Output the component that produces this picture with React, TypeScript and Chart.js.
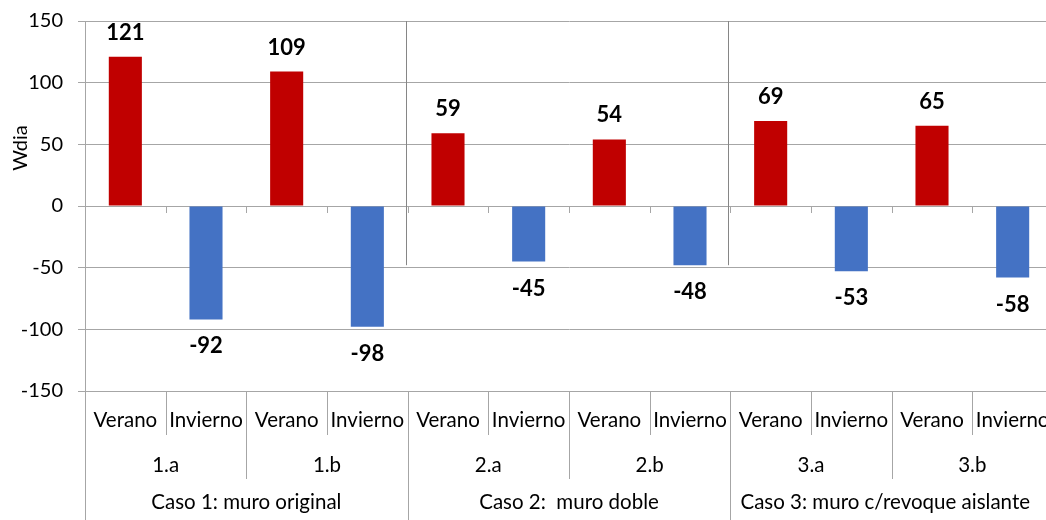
import React, { useEffect, useRef } from "react";
import { Chart, registerables } from "chart.js";

Chart.register(...registerables);

const categories = [
  "Verano", "Invierno", "Verano", "Invierno",
  "Verano", "Invierno", "Verano", "Invierno",
  "Verano", "Invierno", "Verano", "Invierno",
];
const subgroups = ["1.a", "1.b", "2.a", "2.b", "3.a", "3.b"];
const cases = ["Caso 1: muro original", "Caso 2:  muro doble", "Caso 3: muro c/revoque aislante"];
const values = [121, -92, 109, -98, 59, -45, 54, -48, 69, -53, 65, -58];
const yMin = -150;
const yMax = 150;
const yStep = 50;
const yTitle = "Wdia";

const RED = "#C00000";
const BLUE = "#4472C4";
const GRID = "#A6A6A6";
const SEP = "#868686";
const FONT = "Lato, 'Noto Sans', sans-serif";

const overlay = {
  id: "overlay",
  afterDraw(chart: any) {
    const { ctx, chartArea, scales } = chart;
    const x = scales.x;
    const y = scales.y;
    const n = categories.length;
    const step = x.getPixelForValue(1) - x.getPixelForValue(0);
    const edge = (i: number) => x.getPixelForValue(i) - step / 2;
    const crisp = (v: number) => Math.round(v) + 0.5;
    const visibleRight = 1046;

    ctx.save();
    ctx.lineWidth = 1;

    // vertical separators inside plot between cases
    ctx.strokeStyle = SEP;
    [4, 8].forEach((i) => {
      const px = crisp(edge(i) - 2);
      ctx.beginPath();
      ctx.moveTo(px, chartArea.top);
      ctx.lineTo(px, y.getPixelForValue(-48));
      ctx.stroke();
    });

    // small ticks below zero line
    ctx.strokeStyle = GRID;
    const y0 = Math.round(y.getPixelForValue(0));
    for (let i = 0; i <= n; i++) {
      const px = crisp(edge(i));
      ctx.beginPath();
      ctx.moveTo(px, y0);
      ctx.lineTo(px, y0 + 7);
      ctx.stroke();
    }

    // category axis separators
    const bottom = chartArea.bottom;
    for (let i = 0; i <= n; i++) {
      const px = crisp(edge(i));
      let end = 435;
      if (i % 4 === 0) end = 520;
      else if (i % 2 === 0) end = 479;
      ctx.beginPath();
      ctx.moveTo(px, bottom);
      ctx.lineTo(px, end);
      ctx.stroke();
    }

    // category labels
    ctx.fillStyle = "#000";
    ctx.textBaseline = "alphabetic";
    ctx.textAlign = "center";
    ctx.font = `20.5px ${FONT}`;
    categories.forEach((c, i) => {
      ctx.fillText(c, x.getPixelForValue(i), 427);
    });
    subgroups.forEach((s, g) => {
      const cx = (edge(g * 2) + edge(g * 2 + 2)) / 2;
      ctx.fillText(s, cx, 472);
    });
    cases.forEach((s, g) => {
      let cx = (edge(g * 4) + edge(g * 4 + 4)) / 2;
      const w = ctx.measureText(s).width;
      const maxRight = visibleRight - 16;
      if (cx + w / 2 > maxRight) cx = maxRight - w / 2;
      ctx.fillText(s, cx, 509);
    });

    // data labels
    const meta = chart.getDatasetMeta(0);
    ctx.font = `bold 22px ${FONT}`;
    meta.data.forEach((bar: any, i: number) => {
      const v = values[i];
      if (v >= 0) ctx.fillText(String(v), bar.x, bar.y - 17);
      else ctx.fillText(String(v), bar.x, bar.y + 34);
    });

    // y title
    ctx.save();
    ctx.translate(27, 148);
    ctx.rotate(-Math.PI / 2);
    ctx.font = `20px ${FONT}`;
    ctx.fillText(yTitle, 0, 0);
    ctx.restore();

    ctx.restore();
  },
};

export default function App() {
  const ref = useRef<HTMLCanvasElement | null>(null);

  useEffect(() => {
    if (!ref.current) return;
    const chart = new Chart(ref.current, {
      type: "bar",
      data: {
        labels: categories,
        datasets: [
          {
            data: values,
            backgroundColor: categories.map((c) => (c === "Verano" ? RED : BLUE)),
            barPercentage: 0.41,
            categoryPercentage: 1,
          },
        ],
      },
      options: {
        responsive: false,
        animation: false,
        layout: { padding: { top: 21, bottom: 129, left: 0, right: 3 } },
        plugins: { legend: { display: false }, tooltip: { enabled: false } },
        scales: {
          x: {
            type: "category",
            offset: true,
            grid: { display: false },
            border: { display: false },
            ticks: { display: false },
            afterFit: (s: any) => {
              s.height = 0;
            },
          },
          y: {
            min: yMin,
            max: yMax,
            ticks: {
              stepSize: yStep,
              padding: 15,
              color: "#000",
              font: { family: FONT, size: 20 },
            },
            grid: { color: GRID, tickLength: 7, tickColor: GRID },
            border: { color: GRID },
            afterFit: (s: any) => {
              s.width = 85;
              s.paddingTop = 0;
              s.paddingBottom = 0;
            },
          },
        },
      },
      plugins: [overlay],
    } as any);
    return () => chart.destroy();
  }, []);

  return (
    <div
      style={{
        position: "fixed",
        left: 0,
        top: 0,
        width: 1046,
        height: 520,
        overflow: "hidden",
        background: "#fff",
      }}
    >
      <canvas ref={ref} width={1056} height={520} style={{ display: "block" }} />
    </div>
  );
}
